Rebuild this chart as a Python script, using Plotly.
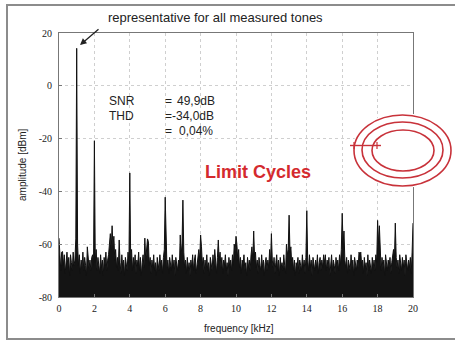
import plotly.graph_objects as go

# ---------------- data ----------------
freq_khz = [round(i * 0.05, 2) for i in range(401)]
amplitude_dbm = [
    # 0 kHz
    -57.7, -65, -70, -63, -62.8, -68, -64, -71, -66, -63, -69, -65, -72, -64, -67, -70, -63, -68, -66, -58,
    # 1 kHz
    14.2, -60, -68, -64, -71, -66, -69, -63, -70, -65, -68, -72, -61, -67, -69, -66, -70, -65, -64, -68,
    # 2 kHz
    -20.8, -67, -62, -70, -65, -68, -71, -64, -69, -66, -72, -65, -68, -63, -70, -66, -64, -60, -56, -62,
    # 3 kHz
    -53, -61, -57, -66, -62, -69, -65, -70, -58.4, -67, -71, -64, -69, -66, -72, -65, -68, -70, -63, -67,
    # 4 kHz
    -33, -66, -62, -70, -65, -69, -64, -71, -66, -68, -63, -70, -65, -72, -67, -64, -69, -57.7, -66, -63,
    # 5 kHz
    -58, -59, -68, -65, -71, -66, -69, -64, -70, -67, -72, -65, -68, -70, -64, -69, -66, -71, -65, -62,
    # 6 kHz
    -42.2, -64, -69, -66, -71, -65, -68, -70, -64, -69, -66, -72, -65, -68, -70, -66, -69, -56.5, -64, -60,
    # 7 kHz
    -43.3, -63, -69, -66, -71, -65, -70, -67, -72, -66, -69, -64, -70, -66, -64, -71, -67, -65, -62, -66,
    # 8 kHz
    -56.5, -61, -68, -65, -71, -66, -69, -64, -70, -67, -72, -65, -68, -70, -64, -69, -62, -67, -71, -65,
    # 9 kHz
    -58.4, -66, -63, -69, -65, -71, -66, -68, -64, -70, -67, -72, -65, -69, -66, -70, -64, -68, -60, -63,
    # 10 kHz
    -57, -60, -66, -62, -69, -65, -71, -66, -68, -64, -70, -67, -72, -65, -69, -66, -70, -64, -61, -66,
    # 11 kHz
    -55, -65, -63, -69, -66, -71, -65, -68, -70, -64, -69, -66, -72, -67, -65, -70, -66, -69, -62, -67,
    # 12 kHz
    -56, -66, -69, -65, -71, -67, -64, -70, -66, -72, -65, -69, -67, -70, -64, -68, -71, -60, -64, -62,
    # 13 kHz
    -49, -63, -61, -68, -65, -70, -66, -72, -67, -69, -65, -71, -66, -68, -70, -64, -69, -66, -71, -65,
    # 14 kHz
    -47.3, -66, -70, -64, -69, -66, -72, -65, -68, -70, -66, -69, -64, -71, -67, -65, -70, -66, -69, -64,
    # 15 kHz
    -67, -64, -70, -66, -69, -65, -72, -67, -64, -70, -66, -68, -71, -65, -69, -66, -70, -64, -68, -62,
    # 16 kHz
    -48.3, -60, -55, -66, -69, -65, -71, -66, -68, -70, -64, -69, -66, -72, -65, -68, -70, -66, -69, -63,
    # 17 kHz
    -64, -63, -68, -66, -71, -65, -69, -67, -72, -64, -70, -66, -68, -71, -65, -69, -66, -70, -64, -67,
    # 18 kHz
    -51, -60, -53, -66, -70, -65, -69, -66, -72, -64, -68, -70, -66, -69, -65, -71, -67, -64, -62, -66,
    # 19 kHz
    -52, -65, -69, -66, -71, -64, -68, -70, -65, -69, -66, -72, -64, -68, -70, -66, -69, -65, -71, -63,
    # 20 kHz
    -52,
]
floor_dbm = -80
x_ticks = [0, 2, 4, 6, 8, 10, 12, 14, 16, 18, 20]
y_ticks = [-80, -60, -40, -20, 0, 20]
y_tick_labels = ["-80", "-60", "-40", "-20", "0", "20"]

title_note = "representative for all measured tones"
stats_names = ["SNR", "THD", ""]
stats_values = ["49,9dB", "-34,0dB", "0,04%"]

# ---------------- layout helpers (screen pixel -> paper) ----------------
W, H = 455, 341
L, R, T, B = 59, 42, 33, 44
PW, PH = W - L - R, H - T - B


def px(x):
    return (x - L) / PW


def py(y):
    return (H - B - y) / PH


fig = go.Figure()
fig.add_trace(go.Scatter(
    x=freq_khz, y=[floor_dbm] * len(freq_khz), mode="lines",
    line=dict(width=0, color="#111"), showlegend=False, hoverinfo="skip"))
fig.add_trace(go.Scatter(
    x=freq_khz, y=amplitude_dbm, mode="lines", fill="tonexty",
    fillcolor="#141414", line=dict(width=1, color="#111"), showlegend=False))

tick_font = dict(family="Liberation Serif, serif", size=10, color="#222")
fig.update_xaxes(
    range=[0, 20], tickvals=x_ticks, showgrid=True, gridcolor="#cfcfcf",
    griddash="dot", gridwidth=1, showline=True, linecolor="#777", mirror=True,
    ticks="inside", ticklen=3, tickcolor="#777", tickfont=tick_font,
    zeroline=False, ticklabelstandoff=2)
fig.update_yaxes(
    range=[-80, 20], tickvals=y_ticks, ticktext=y_tick_labels, showgrid=True,
    gridcolor="#cfcfcf", griddash="dot", gridwidth=1, showline=True,
    linecolor="#777", mirror=True, ticks="inside", ticklen=3, tickcolor="#777",
    tickfont=tick_font, zeroline=False, ticklabelstandoff=4)

sans = "Liberation Sans, Arial, sans-serif"
ann = []
ann.append(dict(x=px(106), y=py(18), text=title_note, xanchor="left",
                yanchor="middle", font=dict(family=sans, size=13, color="#222")))
ann.append(dict(x=px(80), y=py(45), text="", showarrow=True, arrowhead=2,
                arrowsize=1, arrowwidth=1.3, arrowcolor="#222", ax=20, ay=-17))
ann.append(dict(x=px(22), y=py(165), text="amplitude [dBm]", textangle=-90,
                xanchor="center", yanchor="middle",
                font=dict(family=sans, size=10, color="#222")))
ann.append(dict(x=px(239), y=py(328), text="frequency [kHz]", xanchor="center",
                yanchor="middle", font=dict(family=sans, size=10, color="#222")))
row_y = [101, 116, 131]
val_x = [175, 170, 177]
for name, val, yy, vx in zip(stats_names, stats_values, row_y, val_x):
    if name:
        ann.append(dict(x=px(107), y=py(yy), text=name, xanchor="left",
                        yanchor="middle", font=dict(family=sans, size=12, color="#222")))
    ann.append(dict(x=px(163), y=py(yy), text="=", xanchor="left",
                    yanchor="middle", font=dict(family=sans, size=12, color="#222")))
    ann.append(dict(x=px(vx), y=py(yy), text=val, xanchor="left",
                    yanchor="middle", font=dict(family=sans, size=12, color="#222")))
ann.append(dict(x=px(203), y=py(172), text="<b>Limit Cycles</b>", xanchor="left",
                yanchor="middle", font=dict(family=sans, size=18, color="#d42a2e")))
for a in ann:
    a.setdefault("showarrow", False)
    a.update(xref="paper", yref="paper")

red = "#c8323a"
shapes = []


def ell(x0, y0, x1, y1, **kw):
    d = dict(type="circle", xref="paper", yref="paper", x0=px(x0), x1=px(x1),
             y0=py(y1), y1=py(y0), layer="above")
    d.update(kw)
    return d


def seg(x0, y0, x1, y1, **kw):
    d = dict(type="line", xref="paper", yref="paper", x0=px(x0), x1=px(x1),
             y0=py(y0), y1=py(y1), layer="above")
    d.update(kw)
    return d


shapes.append(ell(352, 113, 453, 188, fillcolor="white", line=dict(width=0)))
shapes.append(ell(354, 115, 451, 186, line=dict(color=red, width=1.6)))
shapes.append(ell(362, 122, 443, 178, line=dict(color=red, width=1.6)))
shapes.append(ell(372, 130, 434, 171, line=dict(color=red, width=1.6)))
shapes.append(seg(350, 145.5, 381, 145.5, line=dict(color=red, width=1.4)))
shapes.append(seg(354, 142, 354, 149, line=dict(color=red, width=1.2)))
shapes.append(seg(377, 142, 377, 149, line=dict(color=red, width=1.2)))
# scanned page frame
shapes.append(dict(type="rect", xref="paper", yref="paper", x0=px(7), x1=px(462),
                   y0=py(339), y1=py(5), line=dict(color="#8c8c8c", width=2),
                   layer="above"))

fig.update_layout(
    width=W, height=H, margin=dict(l=L, r=R, t=T, b=B, pad=0),
    paper_bgcolor="white", plot_bgcolor="white", showlegend=False,
    annotations=ann, shapes=shapes)

fig.write_html(
    "out.html",
    config={"displayModeBar": False},
    post_script="document.body.style.margin='0px';document.body.style.overflow='hidden';")
